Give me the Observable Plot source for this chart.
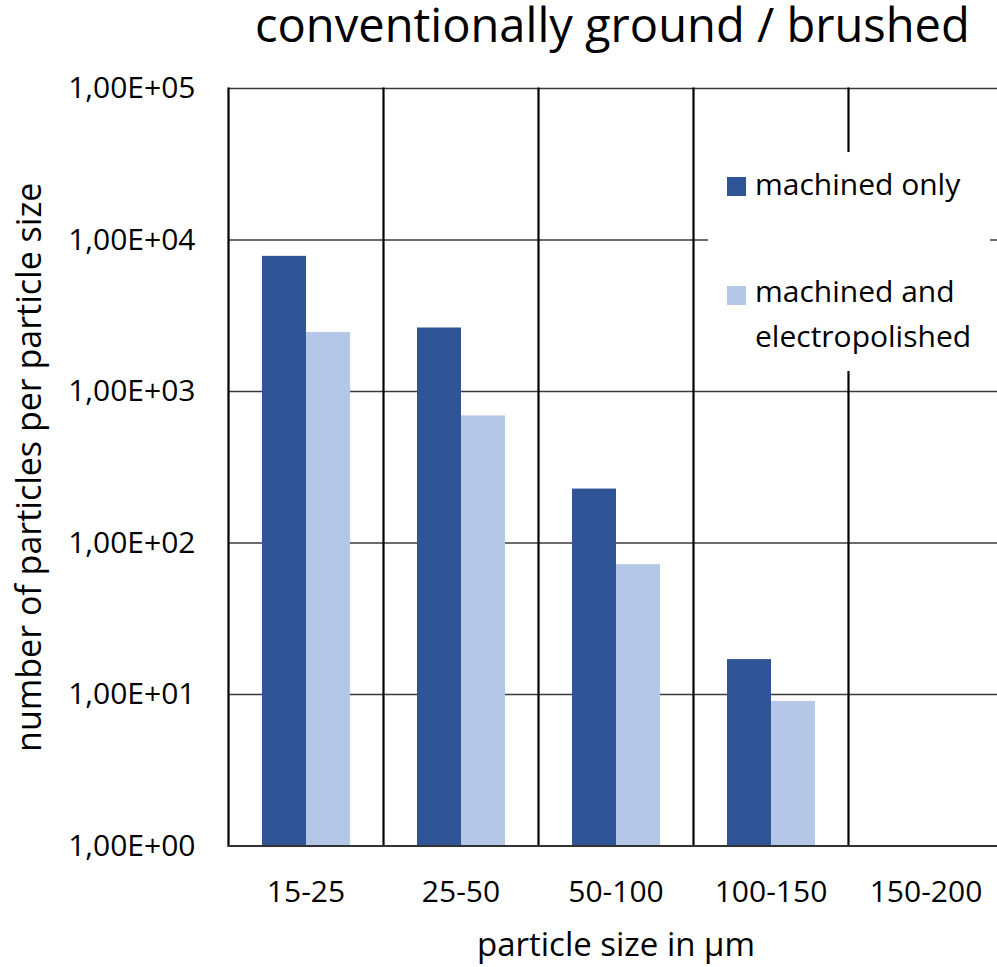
<!DOCTYPE html>
<html>
<head>
<meta charset="utf-8">
<script src="https://cdn.jsdelivr.net/npm/d3@7"></script>
<script src="https://cdn.jsdelivr.net/npm/@observablehq/plot@0.6"></script>
<style>
  html, body { margin: 0; padding: 0; background: #fff; overflow: hidden; }
  #wrap { position: relative; width: 997px; height: 967px; font-family: "Open Sans", sans-serif; color: #000; }
  #title { position: relative; height: 70px; }
  #title span { position: absolute; left: 255px; top: 2px; font-size: 46px; line-height: 1; white-space: nowrap; }
  #legend { position: absolute; left: 708px; top: 152px; width: 282px; height: 219px; background: #fff; }
  #legend .sw { position: absolute; left: 19px; width: 19px; height: 19px; }
  #legend .lt { position: absolute; left: 47px; font-size: 30px; line-height: 45px; white-space: nowrap; }
</style>
</head>
<body>
<div id="wrap">
  <div id="title"><span>conventionally ground / brushed</span></div>
  <div id="chart"></div>
  <div id="legend"></div>
</div>
<script>
// particle counts per size class (log scale, Excel-style exponent labels)
const categories = ["15-25", "25-50", "50-100", "100-150", "150-200"];
const series = ["machined only", "machined and electropolished"];
const machinedOnly = [7800, 2625, 227, 17, 0];
const machinedElectropolished = [2450, 690, 72, 9, 0];
const yTicks = [1, 10, 100, 1000, 10000, 100000];
const colors = ["#2F5597", "#B4C7E7"];
const legendLines = [["machined only"], ["machined and", "electropolished"]];

const rows = categories.flatMap((c, i) => [
  {category: c, series: series[0], value: machinedOnly[i]},
  {category: c, series: series[1], value: machinedElectropolished[i]}
]);

const expFormat = d => "1,00E+" + String(Math.round(Math.log10(d))).padStart(2, "0");

const chart = Plot.plot({
  width: 997,
  height: 897,
  marginTop: 18,
  marginBottom: 121.5,
  marginLeft: 228,
  marginRight: -6,
  style: {fontFamily: "Open Sans, sans-serif", fontSize: "30px", color: "#000", background: "#fff", overflow: "visible"},
  fx: {domain: categories, padding: 0},
  x: {domain: series, paddingInner: 0, paddingOuter: 0.75, axis: null},
  y: {type: "log", domain: [1, 1e5]},
  color: {domain: series, range: colors},
  marks: [
    Plot.gridY(yTicks, {stroke: "#3a3a3a", strokeOpacity: 1, strokeWidth: 1.4}),
    Plot.frame({anchor: "left", stroke: "#000", strokeWidth: 2.2}),
    Plot.barY(rows.filter(d => d.value > 0), {fx: "category", x: "series", y1: 1, y2: "value", fill: "series"}),
    // category axis baseline, one segment per size class
    Plot.ruleY(categories, {fx: d => d, y: () => 1, stroke: "#333", strokeWidth: 2}),
    // tick labels
    Plot.axisY(yTicks, {tickFormat: expFormat, tickSize: 0, tickPadding: 33, fontSize: 30, label: null}),
    Plot.axisFx({anchor: "bottom", tickSize: 0, tickPadding: 35, fontSize: 30, label: null}),
    // axis titles
    Plot.axisY([], {
      tickSize: 0, fontSize: 34,
      label: "number of particles per particle size", labelAnchor: "center", labelOffset: 212, labelArrow: "none"
    }),
    Plot.axisFx([], {
      anchor: "bottom", tickSize: 0, fontSize: 33,
      label: "particle size in µm", labelAnchor: "center", labelOffset: 110, labelArrow: "none"
    })
  ]
});
document.getElementById("chart").appendChild(chart);

// legend boxed in white over the upper right of the plot area
const legend = document.getElementById("legend");
const swatchTops = [25, 134];
const textTops = [9, 116];
legendLines.forEach((lines, i) => {
  const sw = document.createElement("div");
  sw.className = "sw";
  sw.style.top = swatchTops[i] + "px";
  sw.style.background = colors[i];
  legend.appendChild(sw);
  const t = document.createElement("div");
  t.className = "lt";
  t.style.top = textTops[i] + "px";
  t.innerHTML = lines.join("<br>");
  legend.appendChild(t);
});

// size the title so it spans the plot width, baseline kept at the same height
const title = document.querySelector("#title span");
const w = title.getBoundingClientRect().width;
const fs = 46 * 715 / w;
title.style.fontSize = fs + "px";
title.style.top = (43 - 0.888 * fs) + "px";
</script>
</body>
</html>
